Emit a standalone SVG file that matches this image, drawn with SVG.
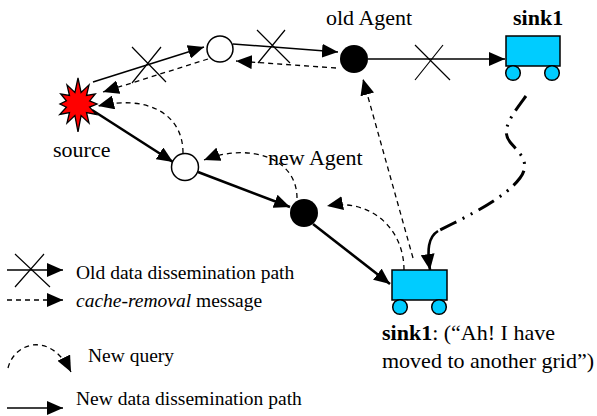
<svg xmlns="http://www.w3.org/2000/svg" width="597" height="416" viewBox="0 0 597 416">
<style>
.t{font-family:"Liberation Serif","Times New Roman",serif;fill:#000}
.lab{font-size:22px}
.leg{font-size:19.5px}
.b{font-weight:bold}
.ln{fill:none;stroke:#000;stroke-width:1.5}
.thick{fill:none;stroke:#000;stroke-width:2.6}
.dash{fill:none;stroke:#000;stroke-width:1.3;stroke-dasharray:5 4}
.dd{fill:none;stroke:#000;stroke-width:3;stroke-dasharray:18 7 2 7 2 7}
.x{fill:none;stroke:#000;stroke-width:1.2}
.cart{fill:#00CCFF;stroke:#000;stroke-width:1.5}
</style>
<defs>
<marker id="a" viewBox="0 0 16 14" refX="16" refY="7" markerWidth="16" markerHeight="14" markerUnits="userSpaceOnUse" orient="auto">
<path d="M0,0 L16,7 L0,14 z" fill="#000"/>
</marker>
</defs>
<rect width="597" height="416" fill="#fff"/>
<g id="connectors">
<path class="ln" d="M93,82 L204,47" marker-end="url(#a)"/>
<path class="x" d="M132,47 L166,82 M161,47 L132,83"/>
<path class="ln" d="M233,44 L338,52" marker-end="url(#a)"/>
<path class="x" d="M257,30 L290,63 M285,30 L258,63"/>
<path class="ln" d="M368,59 L505,59" marker-end="url(#a)"/>
<path class="x" d="M415,45 L450,80 M443,45 L415,80"/>
<path class="dash" d="M336,68 L236,61" marker-end="url(#a)"/>
<path class="dash" d="M208,59 L103,92" marker-end="url(#a)"/>
<path class="dash" d="M183,153 C183,112 145,95 98,106" marker-end="url(#a)"/>
<path class="thick" d="M92,110 L173,162" marker-end="url(#a)"/>
<path class="thick" d="M198,172 L290,207" marker-end="url(#a)"/>
<path class="thick" d="M313,224 L390,284" marker-end="url(#a)"/>
<path class="dash" d="M297,198 C297,158 250,142 204,160" marker-end="url(#a)"/>
<path class="dash" d="M404,270 C404,228 370,198 327,206" marker-end="url(#a)"/>
<path class="dash" d="M413,258 L363,79" marker-end="url(#a)"/>
<path class="dd" d="M526,96 C512,115 500,130 510,142 C518,152 532,162 520,178 C505,198 470,215 438,231"/>
<path class="thick" d="M438,231 C428,237 427,250 430,270" marker-end="url(#a)"/>
</g>
<g id="source">
<polygon points="78,78 81.1,92.4 89,84.9 86.5,95.5 95.3,94 89.6,100.9 97,104 89.6,107.1 96.2,114.5 86.5,112.5 89,123.1 81.1,115.6 78,132 74.9,115.6 67,123.1 69.5,112.5 59.8,114.5 66.4,107.1 60,104 66.4,100.9 60.7,94 69.5,95.5 67,84.9 74.9,92.4" fill="#FF0000" stroke="#000" stroke-width="1.3"/>
<text class="t lab" x="53" y="157">source</text>
</g>
<g id="relay1"><circle cx="220" cy="49" r="13" fill="#fff" stroke="#000" stroke-width="1.5"/></g>
<g id="oldAgent">
<circle cx="354" cy="59" r="14" fill="#000"/>
<text class="t lab" x="326" y="25">old Agent</text>
</g>
<g id="sink1">
<rect class="cart" x="506" y="36" width="54" height="30"/>
<circle class="cart" cx="513" cy="73" r="7.3"/>
<circle class="cart" cx="552" cy="73" r="7.3"/>
<text class="t lab b" x="513" y="25">sink1</text>
</g>
<g id="relay2"><circle cx="185" cy="167" r="13.5" fill="#fff" stroke="#000" stroke-width="1.5"/></g>
<g id="newAgent">
<circle cx="304" cy="213" r="14" fill="#000"/>
<text class="t lab" x="268" y="165">new Agent</text>
</g>
<g id="sink1Moved">
<rect class="cart" x="392" y="270" width="55" height="30"/>
<circle class="cart" cx="400" cy="307" r="7.3"/>
<circle class="cart" cx="439" cy="307" r="7.3"/>
<text class="t lab" x="382" y="340"><tspan class="b">sink1</tspan>: (“Ah! I have</text>
<text class="t lab" x="382" y="368">moved to another grid”)</text>
</g>
<g id="legend">
<path class="ln" d="M7,270 L63,270" marker-end="url(#a)"/>
<path class="x" d="M15,254 L50,287 M44,254 L15,287"/>
<text class="t leg" x="76" y="279">Old data dissemination path</text>
<path class="dash" d="M7,300 L63,300" marker-end="url(#a)"/>
<text class="t leg" x="76" y="307"><tspan font-style="italic">cache-removal</tspan> message</text>
<path class="dash" d="M8,368 C14,343 50,330 71,372" marker-end="url(#a)"/>
<text class="t leg" x="88" y="362">New query</text>
<path class="ln" d="M7,408 L63,408" marker-end="url(#a)"/>
<text class="t leg" x="76" y="405">New data dissemination path</text>
</g>
</svg>
